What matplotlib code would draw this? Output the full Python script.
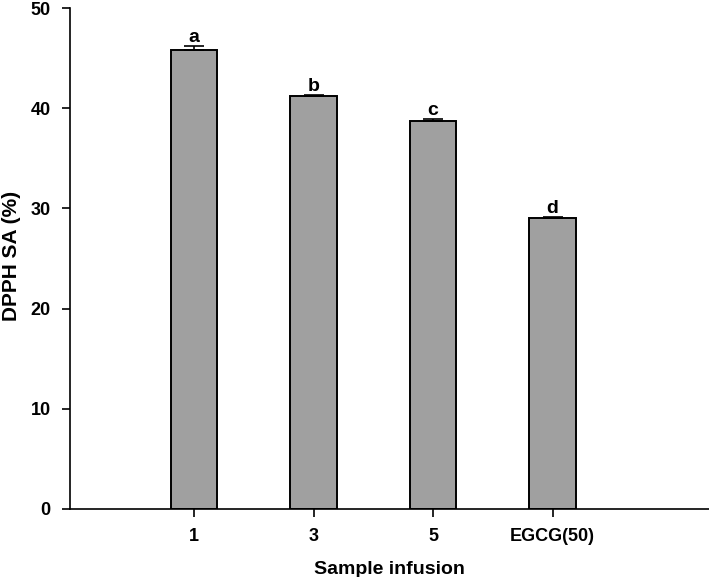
import matplotlib
matplotlib.use("Agg")
import matplotlib.pyplot as plt

plt.rcParams["font.family"] = ["Liberation Sans", "DejaVu Sans"]
plt.rcParams["font.weight"] = "bold"

categories = ["1", "3", "5", "EGCG(50)"]
values = [45.8, 41.2, 38.75, 29.05]
errors = [0.45, 0.08, 0.15, 0.08]
letters = ["a", "b", "c", "d"]

fig = plt.figure(figsize=(7.09, 5.77), dpi=100)
ax = fig.add_axes([0.0987, 0.1179, 0.9013, 0.8681])

x = list(range(len(categories)))
ax.bar(x, values, width=0.39, color="#a0a0a0", edgecolor="black", linewidth=1.4, zorder=2)
ax.errorbar(x, values, yerr=[[0] * len(errors), errors], fmt="none", ecolor="black",
            elinewidth=1.2, capsize=7, capthick=1.2, zorder=3)
for xi, v, e, lab in zip(x, values, errors, letters):
    ax.text(xi, v + e + 0.4, lab, ha="center", va="baseline", fontsize=14, fontweight="bold")

ax.set_xlim(-1.04, 4.31)
ax.set_ylim(0, 50)
ax.set_yticks([0, 10, 20, 30, 40, 50])
ax.set_xticks(x)
ax.set_xticklabels(categories)
ax.tick_params(direction="out", length=6, width=1.2, labelsize=13)
ax.tick_params(axis="y", pad=8)
ax.tick_params(axis="x", pad=8)
for s in ["top", "right"]:
    ax.spines[s].set_visible(False)
for s in ["left", "bottom"]:
    ax.spines[s].set_linewidth(1.2)

ax.set_xlabel("Sample infusion", fontsize=14, fontweight="bold", labelpad=11)
ax.set_ylabel("DPPH SA (%)", fontsize=15, fontweight="bold")
ax.yaxis.set_label_coords(-0.077, 0.505)

fig.savefig("out.png", dpi=100)
